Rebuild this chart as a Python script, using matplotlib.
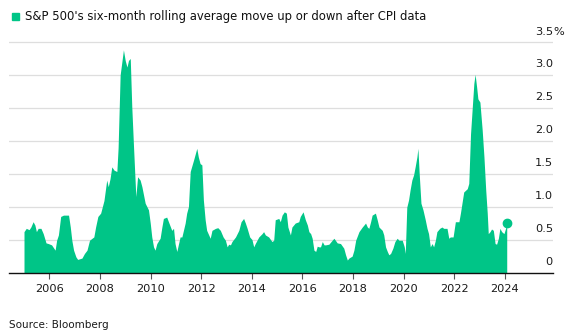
import numpy as np
import matplotlib
matplotlib.use("Agg")
import matplotlib.pyplot as plt

# values (decimal year, % move)
years = [
    2005.00, 2005.09, 2005.20, 2005.27, 2005.36, 2005.43, 2005.49, 2005.56, 2005.67, 2005.76,
    2005.87, 2005.96, 2006.09, 2006.16, 2006.23, 2006.29, 2006.36, 2006.45, 2006.56, 2006.76,
    2006.83, 2006.89, 2006.96, 2007.05, 2007.12, 2007.29, 2007.39, 2007.49, 2007.59, 2007.69,
    2007.76, 2007.83, 2007.92, 2008.03, 2008.16, 2008.27, 2008.33, 2008.40, 2008.47, 2008.56,
    2008.67, 2008.72, 2008.80, 2008.93, 2009.00, 2009.07, 2009.13, 2009.20, 2009.26, 2009.33,
    2009.42, 2009.49, 2009.59, 2009.66, 2009.79, 2009.92, 2009.99, 2010.05, 2010.12, 2010.18,
    2010.25, 2010.38, 2010.45, 2010.51, 2010.64, 2010.71, 2010.84, 2010.91, 2010.97, 2011.04,
    2011.11, 2011.17, 2011.24, 2011.37, 2011.43, 2011.50, 2011.57, 2011.70, 2011.83, 2011.89,
    2011.96, 2012.03, 2012.09, 2012.16, 2012.22, 2012.36, 2012.43, 2012.57, 2012.66, 2012.76,
    2012.87, 2012.96, 2013.03, 2013.09, 2013.16, 2013.22, 2013.36, 2013.49, 2013.58, 2013.68,
    2013.75, 2013.82, 2013.92, 2014.01, 2014.08, 2014.14, 2014.28, 2014.41, 2014.47, 2014.54,
    2014.67, 2014.80, 2014.87, 2014.93, 2015.07, 2015.13, 2015.20, 2015.29, 2015.37, 2015.43,
    2015.53, 2015.59, 2015.72, 2015.86, 2015.92, 2016.03, 2016.12, 2016.20, 2016.26, 2016.33,
    2016.39, 2016.46, 2016.53, 2016.59, 2016.66, 2016.72, 2016.79, 2016.86, 2016.92, 2017.05,
    2017.18, 2017.25, 2017.38, 2017.51, 2017.64, 2017.71, 2017.78, 2017.84, 2017.97, 2018.04,
    2018.11, 2018.24, 2018.37, 2018.50, 2018.57, 2018.63, 2018.70, 2018.76, 2018.89, 2018.96,
    2019.03, 2019.16, 2019.22, 2019.29, 2019.36, 2019.42, 2019.49, 2019.58, 2019.66, 2019.75,
    2019.82, 2019.95, 2020.03, 2020.07, 2020.13, 2020.20, 2020.26, 2020.33, 2020.40, 2020.46,
    2020.53, 2020.57, 2020.62, 2020.69, 2020.77, 2020.86, 2020.93, 2020.99, 2021.06, 2021.13,
    2021.19, 2021.26, 2021.32, 2021.43, 2021.52, 2021.59, 2021.72, 2021.79, 2021.85, 2021.96,
    2022.05, 2022.19, 2022.25, 2022.38, 2022.52, 2022.58, 2022.65, 2022.72, 2022.78, 2022.83,
    2022.89, 2022.94, 2023.02, 2023.11, 2023.18, 2023.25, 2023.31, 2023.35, 2023.42, 2023.48,
    2023.55, 2023.62, 2023.68, 2023.75, 2023.81, 2023.88, 2023.97, 2024.05, 2024.08,
]
moves = [
    0.63, 0.68, 0.66, 0.70, 0.78, 0.73, 0.63, 0.68, 0.68, 0.60,
    0.46, 0.45, 0.43, 0.39, 0.35, 0.50, 0.58, 0.86, 0.88, 0.88,
    0.70, 0.50, 0.35, 0.25, 0.21, 0.23, 0.30, 0.35, 0.50, 0.53,
    0.55, 0.70, 0.86, 0.91, 1.10, 1.41, 1.31, 1.43, 1.61, 1.56,
    1.54, 1.90, 3.00, 3.38, 3.22, 3.12, 3.22, 3.25, 2.52, 1.91,
    1.16, 1.46, 1.41, 1.31, 1.06, 0.96, 0.76, 0.55, 0.40, 0.35,
    0.45, 0.53, 0.70, 0.83, 0.85, 0.78, 0.65, 0.68, 0.45, 0.33,
    0.45, 0.55, 0.55, 0.76, 0.91, 1.01, 1.54, 1.71, 1.89, 1.76,
    1.66, 1.64, 1.11, 0.81, 0.65, 0.53, 0.65, 0.68, 0.69, 0.65,
    0.55, 0.50, 0.40, 0.44, 0.43, 0.48, 0.55, 0.65, 0.78, 0.83,
    0.76, 0.68, 0.55, 0.51, 0.40, 0.45, 0.55, 0.60, 0.63, 0.58,
    0.55, 0.48, 0.50, 0.81, 0.83, 0.78, 0.88, 0.93, 0.91, 0.70,
    0.58, 0.70, 0.76, 0.78, 0.86, 0.93, 0.81, 0.73, 0.63, 0.60,
    0.53, 0.35, 0.33, 0.41, 0.40, 0.40, 0.48, 0.43, 0.43, 0.44,
    0.50, 0.53, 0.46, 0.45, 0.38, 0.28, 0.20, 0.23, 0.26, 0.35,
    0.50, 0.63, 0.70, 0.76, 0.70, 0.68, 0.78, 0.88, 0.91, 0.81,
    0.70, 0.65, 0.58, 0.40, 0.33, 0.28, 0.30, 0.38, 0.48, 0.53,
    0.50, 0.50, 0.40, 0.30, 1.00, 1.11, 1.26, 1.41, 1.49, 1.61,
    1.76, 1.89, 1.51, 1.06, 0.96, 0.81, 0.68, 0.60, 0.40, 0.45,
    0.40, 0.50, 0.63, 0.68, 0.70, 0.68, 0.68, 0.53, 0.55, 0.55,
    0.78, 0.78, 0.91, 1.23, 1.28, 1.36, 2.11, 2.52, 2.87, 3.01,
    2.82, 2.64, 2.59, 2.17, 1.76, 1.26, 0.91, 0.60, 0.63, 0.67,
    0.65, 0.45, 0.44, 0.53, 0.68, 0.63, 0.60, 0.70, 0.76,
]

year_ticks = list(range(2006, 2025, 2))
y_levels = [0, 0.5, 1.0, 1.5, 2.0, 2.5, 3.0, 3.5]
y_labels = ["0", "0.5", "1.0", "1.5", "2.0", "2.5", "3.0", "3.5"]

green = "#00c587"
plt.rcParams["font.family"] = "DejaVu Sans"

fig = plt.figure(figsize=(5.7, 3.36), dpi=100)
ax = fig.add_axes([9 / 570, 1 - 273.3 / 336, 544 / 570, 238.3 / 336])

ax.fill_between(years, moves, 0, color=green, lw=0, zorder=2)
ax.plot(years[-1], moves[-1], "o", color=green, ms=6, zorder=3)

for lv in y_levels[1:]:
    ax.axhline(lv, color="#dedede", lw=0.9, zorder=1)

ax.set_xlim(2004.407, 2025.909)
ax.set_ylim(0, 238.3 / 66.1)
ax.set_yticks([])
ax.set_xticks(year_ticks)
ax.set_xticklabels([str(y) for y in year_ticks], fontsize=8.2, color="#1a1a1a")
ax.tick_params(axis="x", length=4, width=0.8, color="#555555", pad=3.5)

for s in ["top", "right", "left"]:
    ax.spines[s].set_visible(False)
ax.spines["bottom"].set_color("#111111")
ax.spines["bottom"].set_linewidth(1)
ax.spines["bottom"].set_zorder(4)

# y labels sit above the gridlines at the right edge
for lv, lab in zip(y_levels, y_labels):
    if lab == "3.5":
        ax.annotate("3.5", xy=(1, lv), xycoords=("axes fraction", "data"),
                    xytext=(0, 5), textcoords="offset pixels",
                    ha="right", va="bottom", fontsize=8.2, color="#1a1a1a")
        ax.annotate("%", xy=(1, lv), xycoords=("axes fraction", "data"),
                    xytext=(0, 5), textcoords="offset pixels",
                    ha="left", va="bottom", fontsize=8.2, color="#1a1a1a",
                    annotation_clip=False)
    else:
        ax.annotate(lab, xy=(1, lv), xycoords=("axes fraction", "data"),
                    xytext=(0, 6), textcoords="offset pixels",
                    ha="right", va="bottom", fontsize=8.2, color="#1a1a1a")

# title with legend square
fig.patches.append(plt.Rectangle((12 / 570, 1 - 20 / 336), 7 / 570, 7 / 336,
                                 transform=fig.transFigure, color=green))
fig.text(25 / 570, 1 - 16.5 / 336, "S&P 500's six-month rolling average move up or down after CPI data",
         ha="left", va="center", fontsize=8.4, color="#111111")
fig.text(9 / 570, 1 - 325 / 336, "Source: Bloomberg", ha="left", va="center",
         fontsize=7.5, color="#1a1a1a")

fig.savefig("out.png", dpi=100)
